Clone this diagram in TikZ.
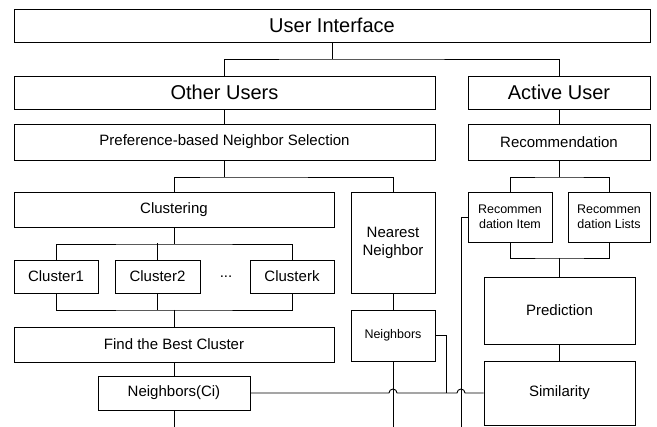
\documentclass[tikz,border=0pt]{standalone}
\usepackage{fontspec}
\setmainfont{Liberation Sans}
\begin{document}
\begin{tikzpicture}[x=1pt, y=-1pt, line width=0.9pt,
    box/.style={draw, inner sep=0pt, align=center},
    big/.style={font=\fontsize{20}{24}\selectfont},
    mid/.style={font=\fontsize{15}{18}\selectfont},
    small/.style={font=\fontsize{12.5}{15}\selectfont}]
        \useasboundingbox (0, 0) rectangle (657, 427);

        \node[box, big, minimum width=636, minimum height=33] (ui) at (332, 25.5) {User Interface};
        \node[box, big, minimum width=421, minimum height=33] (other) at (224.5, 92.5) {Other Users};
        \node[box, big, minimum width=182, minimum height=33] (active) at (559, 92.5) {Active User};
        \node[box, mid, minimum width=421, minimum height=36] (pref) at (224.5, 142) {Preference-based Neighbor Selection};
        \node[box, mid, minimum width=182, minimum height=36] (rec) at (559, 142) {Recommendation};
        \node[box, mid, minimum width=320, minimum height=35] (clus) at (174, 209.5) {Clustering};
        \node[box, mid, minimum width=84, minimum height=101] (nn) at (393, 242.5) {Nearest\\Neighbor};
        \node[box, small, minimum width=84, minimum height=50] (ritem) at (510, 217) {Recommen\\dation Item};
        \node[box, small, minimum width=82, minimum height=50] (rlist) at (609, 217) {Recommen\\dation Lists};
        \node[box, mid, minimum width=84, minimum height=33] (c1) at (56, 276.5) {Cluster1};
        \node[box, mid, minimum width=85, minimum height=33] (c2) at (157.5, 276.5) {Cluster2};
        \node[mid] (dots) at (226, 276.5) {...};
        \node[box, mid, minimum width=84, minimum height=33] (ck) at (292, 276.5) {Clusterk};
        \node[box, mid, minimum width=320, minimum height=35] (find) at (174, 344.5) {Find the Best Cluster};
        \node[box, small, minimum width=84, minimum height=51] (nb) at (393, 335.5) {Neighbors};
        \node[box, mid, minimum width=152, minimum height=34] (ci) at (174, 393) {Neighbors(Ci)};
        \node[box, mid, minimum width=151, minimum height=67] (pred) at (559.5, 310.5) {Prediction};
        \node[box, mid, minimum width=151, minimum height=64] (sim) at (559.5, 393) {Similarity};

        \coordinate (bot) at (0, 427);
        \coordinate (nbj) at (446, 393);
        \coordinate (rij) at (461, 427);

        \draw (ui.south) -- (332, 59);
        \draw (other.north) |- (332, 59) -| (active.north);
        \draw (other.south) -- (pref.north);
        \draw (active.south) -- (rec.north);
        \draw (pref.south) -- (224.5, 177);
        \draw (clus.north) |- (224.5, 177) -| (nn.north);
        \draw (clus.south) -- (174, 244);
        \draw (c1.north) |- (174, 244) -| (ck.north);
        \draw (c2.north) -- (c2.north |- ck.north) -- ++(0, -16.5);
        \draw (c1.south) |- (174, 310) -| (ck.south);
        \draw (c2.south) -- ++(0, 16.5);
        \draw (174, 310) -- (find.north);
        \draw (find.south) -- (ci.north);
        \draw (ci.south) -- (ci.south |- bot);
        \draw (nn.south) -- (nb.north);
        \draw (nb.south) -- (nb.south |- bot);
        \draw (nb.east) -| (nbj);
        \draw (ritem.west) -| (rij);
        \draw (rec.south) -- (559, 177);
        \draw (ritem.north) |- (559, 177) -| (rlist.north);
        \draw (ritem.south) |- (559.5, 258) -| (rlist.south);
        \draw (559.5, 258) -- (pred.north);
        \draw (pred.south) -- (sim.north);
        \draw (ci.east) -- (389, 393) arc[start angle=180, end angle=360, radius=4]
            -- (457, 393) arc[start angle=180, end angle=360, radius=4] -- (sim.west);

    \end{tikzpicture}
\end{document}
